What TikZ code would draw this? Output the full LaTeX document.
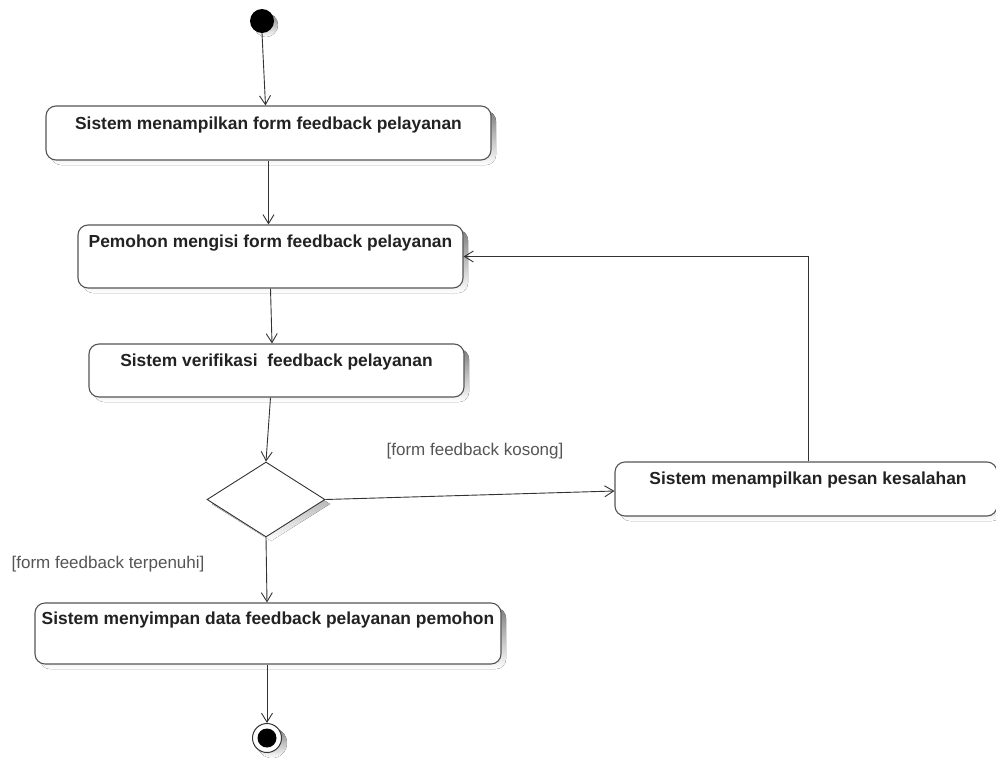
\documentclass[tikz,border=0pt]{standalone}
\usepackage{fontspec}
\setmainfont{Liberation Sans}
\usetikzlibrary{arrows.meta,shapes.geometric,calc}
\definecolor{edge}{HTML}{333333}
\definecolor{boxline}{HTML}{555555}
\definecolor{shade}{HTML}{EEEEEE}
\definecolor{txt}{HTML}{222222}
\definecolor{guard}{HTML}{555555}
\tikzset{
  actbox/.style={draw=boxline, line width=1.1pt, rounded corners=10pt, fill=white, inner sep=0pt},
  acttext/.style={font=\bfseries\fontsize{17.4}{19}\selectfont, text=txt, inner sep=0pt},
  guardtext/.style={font=\fontsize{17}{19}\selectfont, text=guard, inner sep=0pt},
  flow/.style={draw=edge, line width=0.9pt, -{Straight Barb[length=9pt,width=11pt,line width=0.9pt]}},
  decision/.style={diamond, draw=edge, line width=0.9pt, fill=white, inner sep=0pt, aspect=1.57},
}
\begin{document}
\begin{tikzpicture}[x=1pt,y=-1pt]
\useasboundingbox (0,0) rectangle (996,758);
% start
\fill[shade] (266,25) circle (12);
\node[circle, fill=black, minimum size=24pt, inner sep=0pt] (start) at (262,21) {};
% activity box shadows
\foreach \cx/\cy/\w/\h in {268.5/133/445/54, 270.5/256.5/385/63, 276.5/370.5/375/53, 806/489/382/54, 268/633.5/466/61}{
  \fill[shade, rounded corners=10pt] ($(\cx,\cy)+(-\w/2+5,-\h/2+5)$) rectangle +(\w,\h);
}
\node[actbox, minimum width=445pt, minimum height=54pt] (b1) at (268.5,133) {};
\node[actbox, minimum width=385pt, minimum height=63pt] (b2) at (270.5,256.5) {};
\node[actbox, minimum width=375pt, minimum height=53pt] (b3) at (276.5,370.5) {};
\node[actbox, minimum width=382pt, minimum height=54pt] (b4) at (806,489) {};
\node[actbox, minimum width=466pt, minimum height=61pt] (b5) at (268,633.5) {};
\node[acttext] (t1) at ($(b1.north)+(0,20)$) {Sistem menampilkan form feedback pelayanan};
\node[acttext] (t2) at ($(b2.north)+(0,19)$) {Pemohon mengisi form feedback pelayanan};
\node[acttext] (t3) at ($(b3.north)+(0,19)$) {Sistem verifikasi\ \ feedback pelayanan};
\node[acttext] (t4) at ($(b4.north)+(2,19)$) {Sistem menampilkan pesan kesalahan};
\node[acttext] (t5) at ($(b5.north)+(0,18)$) {Sistem menyimpan data feedback pelayanan pemohon};
% decision
\fill[shade] (271,467) -- (330,504) -- (271,541) -- (212,504) -- cycle;
\node[decision, minimum width=118pt, minimum height=75pt] (d) at (266,499.5) {};
% end
\fill[shade] (272,743) circle (15);
\node[circle, draw=edge, line width=1pt, fill=white, minimum size=29pt, inner sep=0pt] (endo) at (267,738) {};
\node[circle, fill=black, minimum size=19pt, inner sep=0pt] (endi) at (267,738) {};
% guards
\node[guardtext] (g1) at (475,451) {[form feedback kosong]};
\node[guardtext] (g2) at (108,564) {[form feedback terpenuhi]};
% flows
\draw[flow] (start.south) -- ([xshift=-3pt]b1.north);
\draw[flow] (b1.south) -- (b1.south |- b2.north);
\draw[flow] (b2.south) -- ([xshift=1.5pt]b2.south |- b3.north);
\draw[flow] ([xshift=-6pt]b3.south) -- (d.north);
\draw[flow] (d.east) -- ([yshift=-2pt]b4.west);
\draw[flow] ([xshift=2pt]b4.north) |- (b2.east);
\draw[flow] (d.south) -- ([xshift=1pt]d.south |- b5.north);
\draw[flow] ([xshift=-1pt]b5.south) -- (endo.north);
\end{tikzpicture}
\end{document}
